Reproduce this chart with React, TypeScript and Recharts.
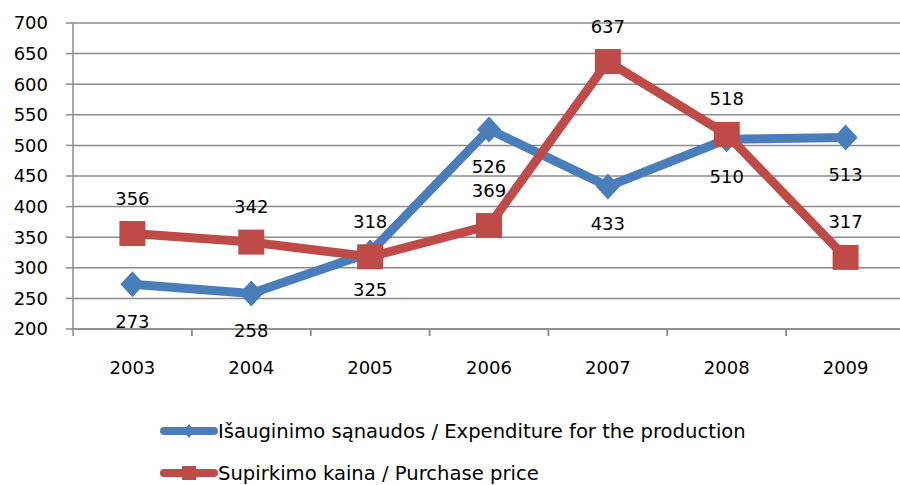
import React from 'react';
import { LineChart, Line, XAxis, YAxis, CartesianGrid, LabelList, Legend } from 'recharts';

const years = ['2003', '2004', '2005', '2006', '2007', '2008', '2009'];
const expenditure = [273, 258, 325, 526, 433, 510, 513];
const purchasePrice = [356, 342, 318, 369, 637, 518, 317];
const yTicks = [200, 250, 300, 350, 400, 450, 500, 550, 600, 650, 700];

const expenditureName = 'Išauginimo sąnaudos / Expenditure for the production';
const purchaseName = 'Supirkimo kaina / Purchase price';

const data = years.map((year, i) => ({
  year,
  expenditure: expenditure[i],
  purchase: purchasePrice[i],
}));

const BLUE = '#4a7ebb';
const RED = '#be4b48';
const GRID = '#8c8c8c';
const FONT = '"DejaVu Sans", sans-serif';
const HALF_BAND = 59.4;

const DiamondDot = (props: any) => {
  const { cx, cy, index } = props;
  if (cx == null || cy == null) return <g key={`dd-${index}`} />;
  return (
    <path
      key={`dd-${index}`}
      d={`M${cx},${cy - 13} L${cx + 12},${cy} L${cx},${cy + 13} L${cx - 12},${cy} Z`}
      fill={BLUE}
    />
  );
};

const SquareDot = (props: any) => {
  const { cx, cy, index } = props;
  if (cx == null || cy == null) return <g key={`sd-${index}`} />;
  return <rect key={`sd-${index}`} x={cx - 13} y={cy - 12.5} width={26} height={25} fill={RED} />;
};

const YearTick = (props: any) => {
  const { x, y, payload } = props;
  return (
    <g>
      <line x1={x - HALF_BAND} y1={y} x2={x - HALF_BAND} y2={y + 7} stroke={GRID} strokeWidth={1.5} />
      <line x1={x + HALF_BAND} y1={y} x2={x + HALF_BAND} y2={y + 7} stroke={GRID} strokeWidth={1.5} />
      <text x={x} y={y + 45} textAnchor="middle" fill="#000" fontSize={18} fontFamily={FONT}>
        {payload.value}
      </text>
    </g>
  );
};

const LegendContent = () => (
  <div style={{ position: 'relative', height: 90, width: 905 }}>
    <div style={{ position: 'absolute', left: 160, top: 24, display: 'flex', alignItems: 'center', height: 24 }}>
      <svg width={58} height={20}>
        <line x1={4} y1={10} x2={54} y2={10} stroke={BLUE} strokeWidth={8} strokeLinecap="round" />
        <path d="M29,3 L35,10 L29,17 L23,10 Z" fill={BLUE} />
      </svg>
      <span style={{ fontFamily: FONT, fontSize: 19.6, color: '#000', whiteSpace: 'nowrap' }}>{expenditureName}</span>
    </div>
    <div style={{ position: 'absolute', left: 160, top: 66, display: 'flex', alignItems: 'center', height: 24 }}>
      <svg width={58} height={20}>
        <line x1={4} y1={10} x2={54} y2={10} stroke={RED} strokeWidth={8} strokeLinecap="round" />
        <rect x={22} y={3} width={14} height={14} fill={RED} />
      </svg>
      <span style={{ fontFamily: FONT, fontSize: 19.6, color: '#000', whiteSpace: 'nowrap' }}>{purchaseName}</span>
    </div>
  </div>
);

export default function App() {
  return (
    <div style={{ position: 'absolute', left: 0, top: 0, width: 900, height: 485, overflow: 'hidden', background: '#fff' }}>
      <LineChart width={905} height={485} data={data} margin={{ top: 23, right: 0, left: 0, bottom: 0 }}>
        <CartesianGrid vertical={false} stroke={GRID} strokeWidth={1.5} />
        <XAxis
          dataKey="year"
          padding={{ left: HALF_BAND, right: HALF_BAND }}
          height={66}
          tickLine={false}
          tickSize={0}
          tickMargin={0}
          axisLine={{ stroke: GRID, strokeWidth: 1.5 }}
          tick={<YearTick />}
          interval={0}
        />
        <YAxis
          domain={[200, 700]}
          ticks={yTicks}
          width={73}
          tickSize={7}
          tickMargin={18}
          tickLine={{ stroke: GRID, strokeWidth: 1.5 }}
          axisLine={{ stroke: GRID, strokeWidth: 1.5 }}
          tick={{ fill: '#000', fontSize: 18, fontFamily: FONT }}
          allowDataOverflow
        />
        <Legend verticalAlign="bottom" align="left" content={<LegendContent />} wrapperStyle={{ left: 0, width: 905, height: 90 }} />
        <Line
          type="linear"
          dataKey="expenditure"
          name={expenditureName}
          stroke={BLUE}
          strokeWidth={9}
          dot={DiamondDot}
          activeDot={false}
          isAnimationActive={false}
        >
          <LabelList dataKey="expenditure" position="bottom" offset={31} fill="#000" fontSize={18} fontFamily={FONT} />
        </Line>
        <Line
          type="linear"
          dataKey="purchase"
          name={purchaseName}
          stroke={RED}
          strokeWidth={9}
          dot={SquareDot}
          activeDot={false}
          isAnimationActive={false}
        >
          <LabelList dataKey="purchase" position="top" offset={29} fill="#000" fontSize={18} fontFamily={FONT} />
        </Line>
      </LineChart>
    </div>
  );
}
